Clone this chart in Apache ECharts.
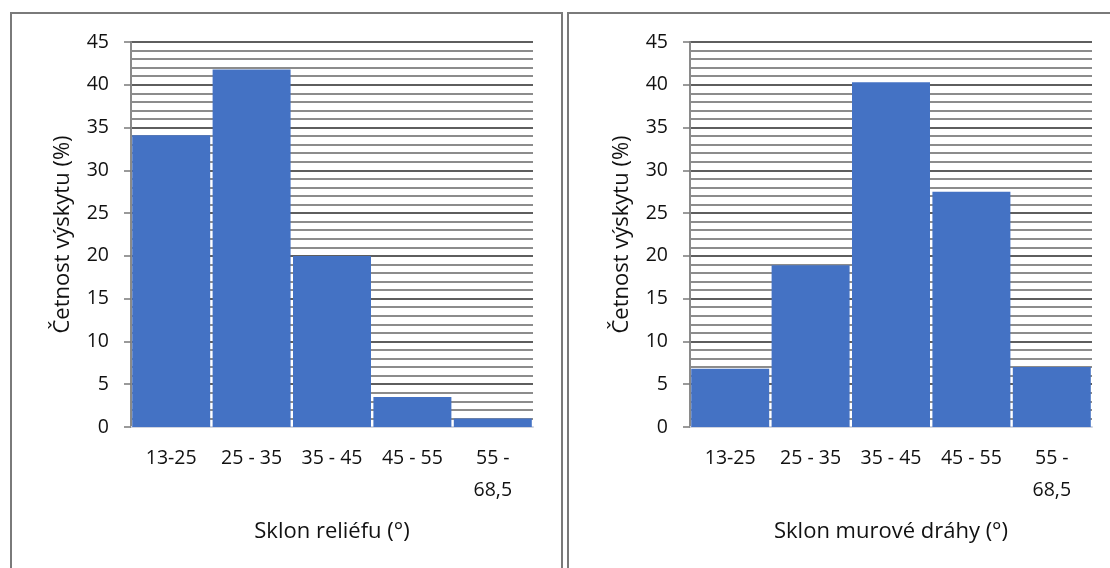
<!DOCTYPE html>
<html>
<head>
<meta charset="utf-8">
<script src="https://cdn.jsdelivr.net/npm/echarts@6/dist/echarts.min.js"></script>
<style>
  html, body { margin: 0; padding: 0; background: #fff; }
  #chart { width: 1110px; height: 568px; }
</style>
</head>
<body>
<div id="chart"></div>
<script>
// Slope classes (degrees) and frequency of occurrence (%)
const categories = ['13-25', '25 - 35', '35 - 45', '45 - 55', '55 -\n68,5'];
const reliefValues = [34.1, 41.8, 20.0, 3.5, 1.0];
const channelValues = [6.8, 18.9, 40.3, 27.5, 7.0];
const yAxisTitle = 'Četnost výskytu (%)';
const xTitleRelief = 'Sklon reliéfu (°)';
const xTitleChannel = 'Sklon murové dráhy (°)';

const FONT = '"Open Sans", "Noto Sans", "Liberation Sans", sans-serif';
const BAR = '#4472C4';

function xAxisFor(gridIndex, title) {
  return {
    type: 'category',
    gridIndex,
    data: categories,
    name: title,
    nameLocation: 'middle',
    nameGap: 94,
    nameTextStyle: { fontFamily: FONT, fontSize: 22, color: '#111' },
    axisLine: { show: true, lineStyle: { color: '#d0d4e0', width: 2 } },
    axisTick: { show: false },
    axisLabel: {
      fontFamily: FONT, fontSize: 19.5, color: '#111',
      margin: 15, lineHeight: 32, interval: 0
    },
    splitLine: { show: false }
  };
}

function yAxisFor(gridIndex) {
  return {
    type: 'value',
    gridIndex,
    min: 0, max: 45, interval: 5,
    name: yAxisTitle,
    nameLocation: 'middle',
    nameGap: 57,
    nameTextStyle: { fontFamily: FONT, fontSize: 22, color: '#111' },
    axisLine: { show: true, lineStyle: { color: '#8a8a8a', width: 2 } },
    axisTick: { show: true, length: 7, lineStyle: { color: '#7a7a7a', width: 1.5 } },
    axisLabel: { fontFamily: FONT, fontSize: 19.5, color: '#111', margin: 22 },
    splitLine: { show: true, lineStyle: { color: '#5e5e5e', width: 2 } },
    minorTick: { show: false, splitNumber: 5 },
    minorSplitLine: { show: true, lineStyle: { color: '#8c8c8c', width: 2 } }
  };
}

function barSeries(idx, values) {
  return {
    type: 'bar',
    xAxisIndex: idx,
    yAxisIndex: idx,
    data: values,
    barCategoryGap: '3%',
    itemStyle: { color: BAR },
    silent: true
  };
}

const chart = echarts.init(document.getElementById('chart'), null, { renderer: 'canvas' });
chart.setOption({
  animation: false,
  backgroundColor: '#ffffff',
  grid: [
    { left: 131, width: 402, top: 42, height: 385 },
    { left: 690, width: 402, top: 42, height: 385 }
  ],
  xAxis: [xAxisFor(0, xTitleRelief), xAxisFor(1, xTitleChannel)],
  yAxis: [yAxisFor(0), yAxisFor(1)],
  series: [barSeries(0, reliefValues), barSeries(1, channelValues)],
  graphic: [
    {
      type: 'rect', silent: true, z: -1,
      shape: { x: 11, y: 13, width: 551, height: 580 },
      style: { fill: 'none', stroke: '#7a7a7a', lineWidth: 2 }
    },
    {
      type: 'rect', silent: true, z: -1,
      shape: { x: 568, y: 13, width: 560, height: 580 },
      style: { fill: 'none', stroke: '#7a7a7a', lineWidth: 2 }
    }
  ]
});
</script>
</body>
</html>
